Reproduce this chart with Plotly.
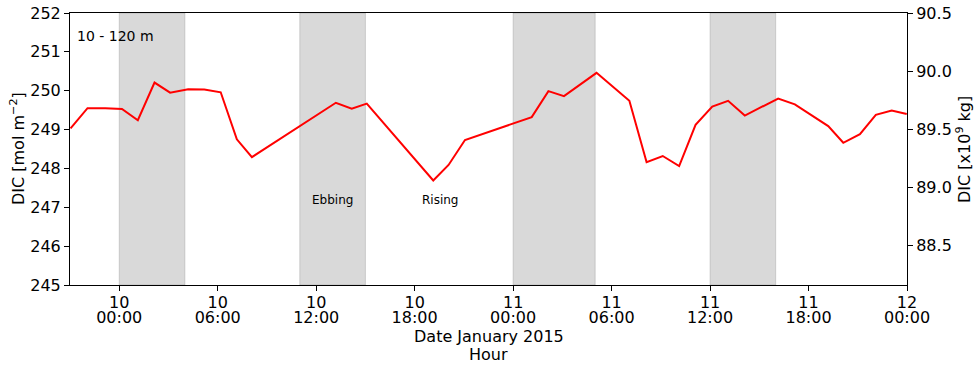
import plotly.graph_objects as go

times = [
    "2015-01-09 21:02", "2015-01-09 22:04", "2015-01-09 23:09",
    "2015-01-10 00:10", "2015-01-10 01:08", "2015-01-10 02:09", "2015-01-10 03:06",
    "2015-01-10 04:12", "2015-01-10 05:11", "2015-01-10 06:11", "2015-01-10 07:10",
    "2015-01-10 08:05", "2015-01-10 13:12", "2015-01-10 14:10", "2015-01-10 15:05",
    "2015-01-10 19:08", "2015-01-10 20:04", "2015-01-10 21:04",
    "2015-01-11 01:08", "2015-01-11 02:09", "2015-01-11 03:06", "2015-01-11 05:05",
    "2015-01-11 07:05", "2015-01-11 08:08", "2015-01-11 09:07", "2015-01-11 10:07",
    "2015-01-11 11:07", "2015-01-11 12:08", "2015-01-11 13:06", "2015-01-11 14:07",
    "2015-01-11 16:09", "2015-01-11 17:10", "2015-01-11 19:12", "2015-01-11 20:07",
    "2015-01-11 21:08", "2015-01-11 22:06", "2015-01-11 23:04", "2015-01-11 23:59",
]
dic = [
    249.03, 249.55, 249.55,
    249.53, 249.24, 250.21, 249.95,
    250.04, 250.03, 249.96, 248.75,
    248.29, 249.69, 249.54, 249.67,
    247.69, 248.09, 248.73,
    249.32, 249.99, 249.86, 250.46,
    249.74, 248.16, 248.32, 248.06,
    249.12, 249.59, 249.74, 249.36,
    249.80, 249.65, 249.09, 248.66,
    248.88, 249.38, 249.49, 249.40,
]

shade_start = ["2015-01-10 00:00", "2015-01-10 11:00", "2015-01-11 00:00", "2015-01-11 12:00"]
shade_end = ["2015-01-10 04:00", "2015-01-10 15:00", "2015-01-11 05:00", "2015-01-11 16:00"]

x_tickvals = ["2015-01-10 00:00", "2015-01-10 06:00", "2015-01-10 12:00", "2015-01-10 18:00",
              "2015-01-11 00:00", "2015-01-11 06:00", "2015-01-11 12:00", "2015-01-11 18:00",
              "2015-01-12 00:00"]
x_day_text = ["10", "10", "10", "10", "11", "11", "11", "11", "12"]
x_hour_text = ["00:00", "06:00", "12:00", "18:00", "00:00", "06:00", "12:00", "18:00", "00:00"]
y_ticks = [245, 246, 247, 248, 249, 250, 251, 252]
y2_ticks = [88.5, 89.0, 89.5, 90.0, 90.5]
y2_ticktext = ["88.5", "89.0", "89.5", "90.0", "90.5"]

FONT = "DejaVu Sans"
BLACK16 = dict(family=FONT, size=16, color="black")
XRANGE = ["2015-01-09 21:00", "2015-01-12 00:00"]

fig = go.Figure()
fig.add_trace(go.Scatter(x=times, y=dic, mode="lines",
                         line=dict(color="red", width=2), showlegend=False))
fig.add_trace(go.Scatter(x=[times[0]], y=[None], xaxis="x2", yaxis="y2", mode="lines",
                         showlegend=False, hoverinfo="skip"))

for s, e in zip(shade_start, shade_end):
    fig.add_shape(type="rect", xref="x", yref="paper", x0=s, x1=e, y0=0, y1=1,
                  fillcolor="rgba(128,128,128,0.3)",
                  line=dict(color="rgba(128,128,128,0.3)", width=1), layer="below")

axis_common = dict(showline=True, linecolor="black", linewidth=1, ticks="outside",
                   ticklen=5, tickcolor="black", showgrid=False, zeroline=False,
                   automargin=False, tickfont=BLACK16)

fig.update_layout(
    width=980, height=368,
    margin=dict(l=70, r=73, t=13, b=83),
    paper_bgcolor="white", plot_bgcolor="white",
    font=dict(family=FONT, color="black"),
    xaxis=dict(range=XRANGE, tickvals=x_tickvals, ticktext=x_day_text, mirror=True,
               ticklabelstandoff=-2, **axis_common),
    xaxis2=dict(range=XRANGE, tickvals=x_tickvals, ticktext=x_hour_text,
                overlaying="x", side="bottom", showline=False, ticks="",
                showgrid=False, zeroline=False, automargin=False,
                ticklabelstandoff=21, tickfont=BLACK16),
    yaxis=dict(range=[245, 252], tickvals=y_ticks, **axis_common),
    yaxis2=dict(range=[88.155, 90.505], tickvals=y2_ticks, ticktext=y2_ticktext,
                overlaying="y", side="right", **axis_common),
    annotations=[
        dict(text="Date January 2015", xref="paper", yref="paper", x=0.5, y=-0.1875,
             xanchor="center", yanchor="middle", showarrow=False, font=BLACK16),
        dict(text="Hour", xref="paper", yref="paper", x=0.5, y=-0.2537,
             xanchor="center", yanchor="middle", showarrow=False, font=BLACK16),
        dict(text="DIC [mol m<sup>−2</sup>]", xref="paper", yref="paper",
             x=-0.0633, y=0.5, textangle=-90, xanchor="center", yanchor="middle",
             showarrow=False, font=BLACK16),
        dict(text="DIC [x10<sup>9</sup> kg]", xref="paper", yref="paper",
             x=1.0669, y=0.5, textangle=-90, xanchor="center", yanchor="middle",
             showarrow=False, font=BLACK16),
        dict(text="10 - 120 m", xref="paper", yref="paper", x=0.006, y=0.916,
             xanchor="left", yanchor="middle", showarrow=False,
             font=dict(family=FONT, size=14, color="black")),
        dict(text="Ebbing", xref="x", yref="y", x="2015-01-10 13:00", y=247.2,
             xanchor="center", yanchor="middle", showarrow=False,
             font=dict(family=FONT, size=12, color="black")),
        dict(text="Rising", xref="x", yref="y", x="2015-01-10 19:31", y=247.2,
             xanchor="center", yanchor="middle", showarrow=False,
             font=dict(family=FONT, size=12, color="black")),
    ],
)

fig.write_html("out.html", config={"displayModeBar": False},
               post_script="document.body.style.margin='0px';")
